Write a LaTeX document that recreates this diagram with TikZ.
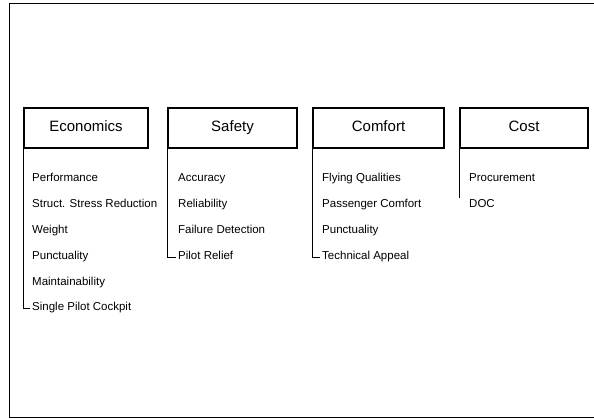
\documentclass[tikz,border=0pt]{standalone}
\usepackage{fontspec}
\setmainfont{Liberation Sans}
\usetikzlibrary{positioning}

\tikzset{
  headbox/.style={draw, line width=1.1pt, minimum width=126pt, minimum height=40pt, text height=10pt, text depth=3pt, font=\fontsize{15}{17}\selectfont},
  item/.style={anchor=west, inner sep=2pt, text height=8pt, text depth=2.5pt, font=\fontsize{11.5}{13}\selectfont},
  branch/.style={line width=0.9pt}
}

\begin{document}
\begin{tikzpicture}[x=1pt, y=-1pt]
	\useasboundingbox (0,0) rectangle (594,419);
	% frame
	\draw [line width=0.9pt] (594,3) -- (9,3) -- (9,417.5) -- (594,417.5);
	% category boxes
	\node [headbox, minimum width=124pt] (econ) at (86,128) {Economics};
	\node [headbox, minimum width=129pt] (safe) at (232.5,128) {Safety};
	\node [headbox, minimum width=131pt] (comf) at (378.5,128) {Comfort};
	\node [headbox, minimum width=128pt] (cost) at (524,128) {Cost};
	% economics
	\node [item] (ec1) at (30,179) {Performance};
	\node [item] (ec2) at (30,205) {Struct. Stress Reduction};
	\node [item] (ec3) at (30,231) {Weight};
	\node [item] (ec4) at (30,257) {Punctuality};
	\node [item] (ec5) at (30,283) {Maintainability};
	\node [item] (ec6) at (30,308) {Single Pilot Cockpit};
	% safety
	\node [item] (sa1) at (176,179) {Accuracy};
	\node [item] (sa2) at (176,205) {Reliability};
	\node [item] (sa3) at (176,231) {Failure Detection};
	\node [item] (sa4) at (176,257) {Pilot Relief};
	% comfort
	\node [item] (co1) at (320,179) {Flying Qualities};
	\node [item] (co2) at (320,205) {Passenger Comfort};
	\node [item] (co3) at (320,231) {Punctuality};
	\node [item] (co4) at (320,257) {Technical Appeal};
	% cost
	\node [item] (cs1) at (467,179) {Procurement};
	\node [item] (cs2) at (467,205) {DOC};
	% branches
	\draw [branch] (econ.south west) |- (ec6.west);
	\draw [branch] (safe.south west) |- (sa4.west);
	\draw [branch] (comf.south west) |- (co4.west);
	\draw [branch] (cost.south west) -- (cost.south west |- cs2.north);
\end{tikzpicture}
\end{document}
